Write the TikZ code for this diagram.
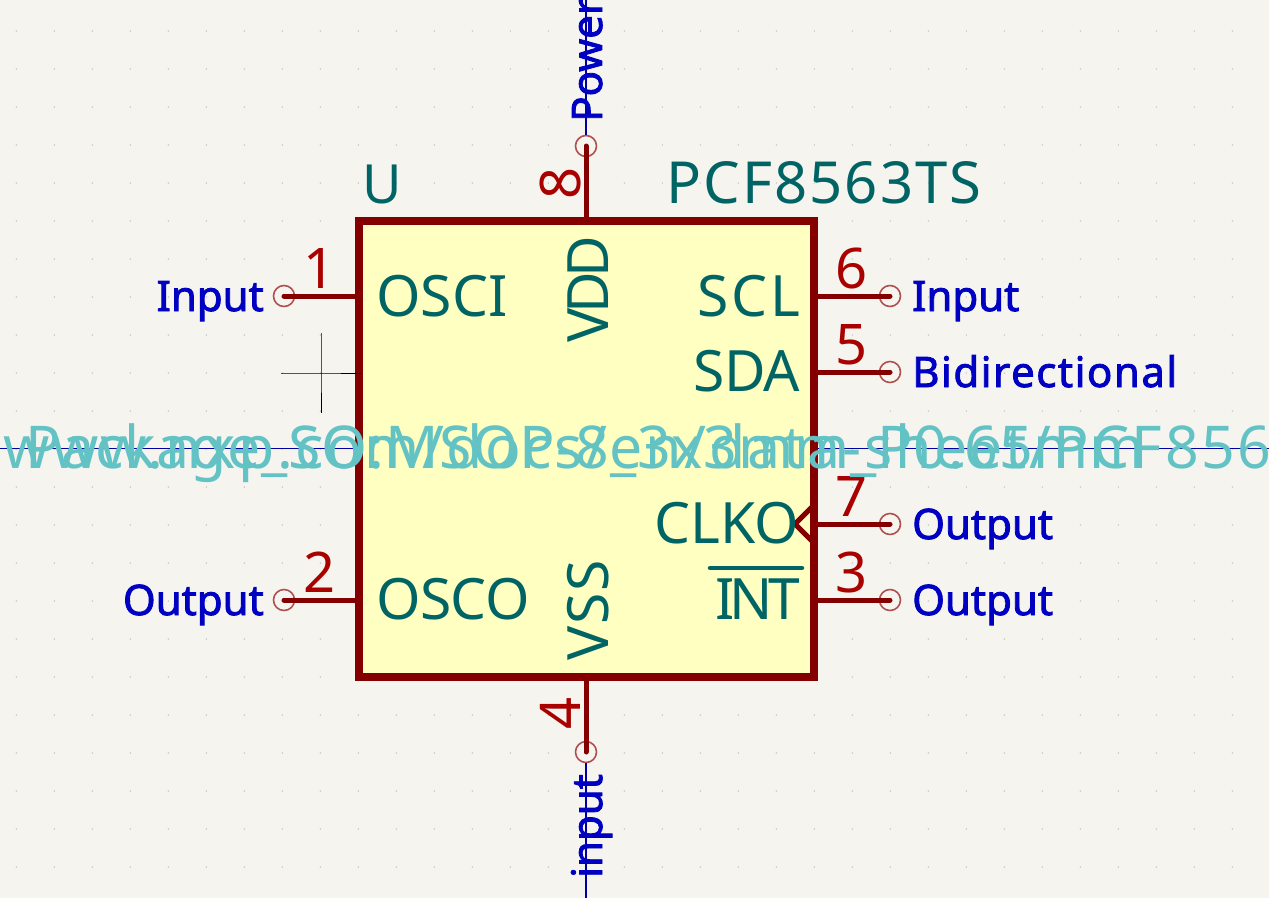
\documentclass[tikz,border=0pt]{standalone}
\usepackage{fontspec}
\setmainfont{Noto Sans}
\usetikzlibrary{positioning}
\definecolor{sheet}{HTML}{F5F4EF}
\definecolor{griddot}{HTML}{C4C4C0}
\definecolor{bodyLine}{HTML}{840000}
\definecolor{bodyFill}{HTML}{FFFFC2}
\definecolor{pinNum}{HTML}{A90000}
\definecolor{pinPad}{HTML}{B05050}
\definecolor{pinName}{HTML}{006464}
\definecolor{pinType}{HTML}{0000C2}
\definecolor{refText}{HTML}{006464}
\definecolor{hidText}{HTML}{62C2C4}
\definecolor{wire}{HTML}{0000A0}
\newcommand{\ls}[1]{\addfontfeature{LetterSpace=#1}}
\begin{document}
\begin{tikzpicture}[x=1pt,y=-1pt,
  body/.style={draw=bodyLine, fill=bodyFill, line width=8pt, minimum width=455pt, minimum height=456pt, inner sep=0pt},
  pad/.style={circle, draw=pinPad, line width=1.6pt, minimum size=21pt, inner sep=0pt},
  pin/.style={draw=bodyLine, line width=5pt, line cap=round},
  num/.style={font=\fontsize{56}{56}\selectfont, color=pinNum, inner sep=0pt, anchor=base},
  pname/.style={font=\fontsize{57}{57}\selectfont, color=pinName, inner sep=0pt},
  ptype/.style={font=\fontsize{42}{42}\selectfont\addfontfeature{FakeBold=2}, color=pinType, inner sep=0pt},
  hid/.style={font=\fontsize{59}{59}\selectfont, color=hidText, inner sep=0pt, anchor=base west}]
\path[use as bounding box, fill=sheet] (0,0) rectangle (1269,898);
% grid
\foreach \i in {0,...,33} \foreach \j in {0,...,23}
  \fill[griddot] ({16.3+38*\i},{31+38*\j}) circle (0.8pt);
% wires behind the body
\draw[wire, line width=1.2pt] (0,448.3) -- (1269,448.3);
\node[body] (body) at (586.5,449) {};
\coordinate (wireT) at (586,0);
\coordinate (wireB) at (586,898);
% pads
\node[pad] (pad1) at (284,296) {};
\node[pad] (pad2) at (284,600) {};
\node[pad] (pad6) at (890,296) {};
\node[pad] (pad5) at (890,372) {};
\node[pad] (pad7) at (890,524) {};
\node[pad] (pad3) at (890,600) {};
\node[pad] (pad8) at (586,146) {};
\node[pad] (pad4) at (586,752) {};
\draw[wire, line width=1.2pt] (wireT) -- (pad8);
\draw[wire, line width=1.2pt] (pad4) -- (wireB);
\foreach \p in {1,2} \draw[pin] (pad\p.center) -- (pad\p.center -| body.west);
\foreach \p in {6,5,7,3} \draw[pin] (pad\p.center) -- (pad\p.center -| body.east);
\draw[pin] (pad8.center) -- (pad8.center |- body.north);
\draw[pin] (pad4.center) -- (pad4.center |- body.south);
% clock mark
\draw[pin, line cap=butt] (814,505) -- (795,524) -- (814,543);
% pin numbers
\node[num] (n1) at (320,288) {1};
\node[num] (n2) at (320,592) {2};
\node[num] (n6) at (852,288) {6};
\node[num] (n5) at (852,364) {5};
\node[num] (n7) at (852,516) {7};
\node[num] (n3) at (852,592) {3};
\node[num, rotate=90] (n8) at (580,183) {8};
\node[num, rotate=90] (n4) at (580,713) {4};
% pin names
\node[pname, anchor=base west] (osci) at (376,316) {OSCI};
\node[pname, anchor=base west] (osco) at (376,619) {\ls{-1}OSCO};
\node[pname, anchor=base east] (scl) at (801,316) {\ls{5.5}SCL};
\node[pname, anchor=base east] (sda) at (800,391) {\ls{-2}SDA};
\node[pname, anchor=base east] (clko) at (799.5,543) {CLKO};
\node[pname, anchor=base east] (int) at (800,619) {\ls{-9}INT};
\draw[pinName, line width=4.5pt, line cap=round] (710,568) -- (802,568);
\node[pname, rotate=90, anchor=base west] (vdd) at (608,343) {\ls{-9}VDD};
\node[pname, rotate=90, anchor=base west] (vss) at (608,661) {\ls{3}VSS};
% pin types
\node[ptype, anchor=base east] (t1) at (264,311) {Input};
\node[ptype, anchor=base east] (t2) at (264,615) {Output};
\node[ptype, anchor=base west] (t6) at (912,311) {Input};
\node[ptype, anchor=base west] (t5) at (912,387) {\ls{3.6}Bidirectional};
\node[ptype, anchor=base west] (t7) at (912,539) {Output};
\node[ptype, anchor=base west] (t3) at (912,615) {Output};
\node[ptype, rotate=90, anchor=base west] (t8) at (602,122) {Power};
\node[ptype, rotate=90, anchor=base west] (t4) at (602,878) {input};
% reference and value
\node[font=\fontsize{54}{54}\selectfont, color=refText, inner sep=0pt, anchor=base] (ref) at (382,203) {U};
\node[font=\fontsize{58}{58}\selectfont, color=refText, inner sep=0pt, anchor=base west] (val) at (666,203) {\ls{3.6}PCF8563TS};
% crosshair
\coordinate (mark) at (321,373);
\draw[black, line width=1pt] (281,373) -- (mark) -- (361,373);
\draw[black, line width=1pt] (321,333) -- (mark) -- (321,413);
% hidden fields
\node[hid] (foot) at (25,468) {\ls{1.3}Package\_SO:MSOP-8\_3x3mm\_P0.65mm};
\node[hid] (sheet) at (3,468) {\ls{4.25}www.nxp.com/docs/en/data-sheet/PCF856};
\end{tikzpicture}
\end{document}
